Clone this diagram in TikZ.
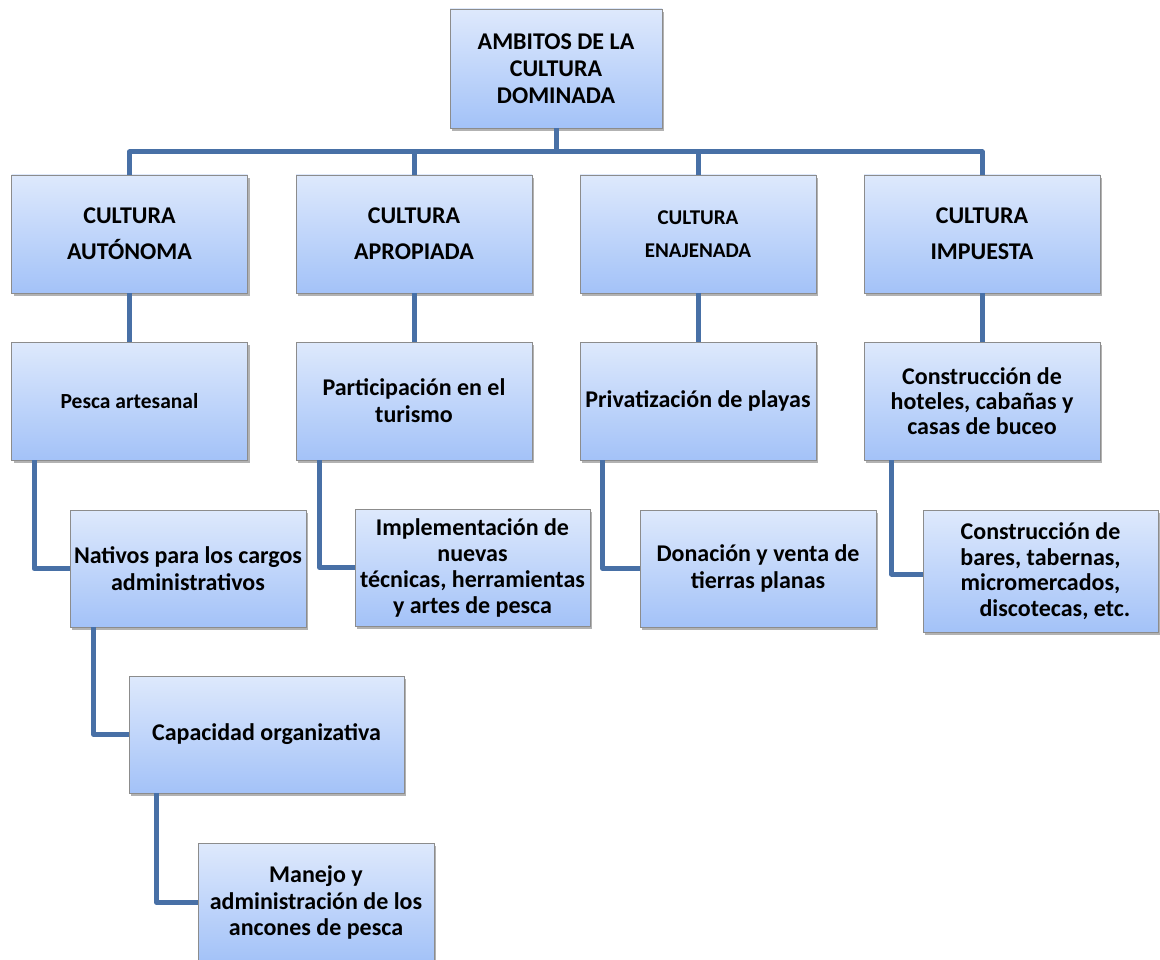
\documentclass[tikz,border=0pt]{standalone}
\usepackage{fontspec}
\setmainfont{Carlito}
\usetikzlibrary{shadows}
\definecolor{boxtop}{RGB}{222,233,252}
\definecolor{boxbot}{RGB}{163,194,248}
\definecolor{boxline}{RGB}{140,140,140}
\definecolor{conn}{RGB}{72,112,166}
\tikzset{
  box/.style={draw=boxline, line width=0.8pt, top color=boxtop, bottom color=boxbot,
    align=center, inner sep=2pt, font=\bfseries\fontsize{24}{26.8}\selectfont,
    drop shadow={shadow xshift=2pt, shadow yshift=-3pt, fill=black, opacity=0.3}},
  lvlbox/.style={box, minimum width=236pt, minimum height=118pt},
  conline/.style={draw=conn, line width=5pt, line join=round}
}
\begin{document}
\begin{tikzpicture}[x=1pt,y=-1pt]
\useasboundingbox[fill=white] (0,0) rectangle (1160,960);
% top
\node[box, minimum width=212pt, minimum height=119pt] (top) at (556,68.5) {AMBITOS DE LA\\CULTURA\\DOMINADA};
% level 1
\node[lvlbox, font=\bfseries\fontsize{24}{36}\selectfont] (c1) at (129.5,234) {CULTURA\\AUTÓNOMA};
\node[lvlbox, font=\bfseries\fontsize{24}{36}\selectfont] (c2) at (414,234) {CULTURA\\APROPIADA};
\node[lvlbox, font=\bfseries\fontsize{21}{33}\selectfont] (c3) at (698,234) {CULTURA\\ENAJENADA};
\node[lvlbox, font=\bfseries\fontsize{24}{36}\selectfont] (c4) at (982,234) {CULTURA\\IMPUESTA};
% level 2
\node[lvlbox, font=\bfseries\fontsize{21.5}{24}\selectfont] (p1) at (129.5,401) {Pesca artesanal};
\node[lvlbox] (p2) at (414,401) {Participación en el\\turismo};
\node[lvlbox] (p3) at (698,401) {Privatización de playas};
\node[lvlbox, font=\bfseries\fontsize{24}{25}\selectfont] (p4) at (982,401) {Construcción de\\hoteles, cabañas y\\casas de buceo};
% level 3
\node[lvlbox, minimum height=117pt] (n1) at (188,568.5) {Nativos para los cargos\\administrativos};
\node[lvlbox, minimum width=235pt, minimum height=117pt, font=\bfseries\fontsize{24}{26}\selectfont] (n2) at (472.5,567.5) {Implementación de\\nuevas\\técnicas, herramientas\\y artes de pesca};
\node[lvlbox, minimum height=117pt] (n3) at (758,568.5) {Donación y venta de\\tierras planas};
\node[lvlbox, minimum width=235pt, minimum height=122pt, font=\bfseries\fontsize{24}{25.5}\selectfont] (n4) at (1040.5,571) {Construcción de\\bares, tabernas,\\micromercados,\\\hspace*{1.2em}discotecas, etc.};
% level 4, 5
\node[box, minimum width=275pt, minimum height=117pt] (k1) at (266.5,734.5) {Capacidad organizativa};
\node[box, minimum width=236pt, minimum height=119pt] (m1) at (316,902.5) {Manejo y\\administración de los\\ancones de pesca};
% connectors
\coordinate (bar) at (556,152);
\draw[conline] (top.south) -- (bar);
\draw[conline] (c1.north) |- (bar) -| (c4.north);
\draw[conline] (c2.north) -- (c2.north |- bar);
\draw[conline] (c3.north) -- (c3.north |- bar);
\draw[conline] (c1.south) -- (p1.north);
\draw[conline] (c2.south) -- (p2.north);
\draw[conline] (c3.south) -- (p3.north);
\draw[conline] (c4.south) -- (p4.north);
\draw[conline] ([xshift=23pt]p1.south west) |- (n1.west);
\draw[conline] ([xshift=24pt]p2.south west) |- (n2.west);
\draw[conline] ([xshift=23pt]p3.south west) |- (n3.west);
\draw[conline] ([xshift=28pt]p4.south west) |- ([yshift=-3pt]n4.west);
\draw[conline] ([xshift=24pt]n1.south west) |- (k1.west);
\draw[conline] ([xshift=28pt]k1.south west) |- (m1.west);
\end{tikzpicture}
\end{document}
